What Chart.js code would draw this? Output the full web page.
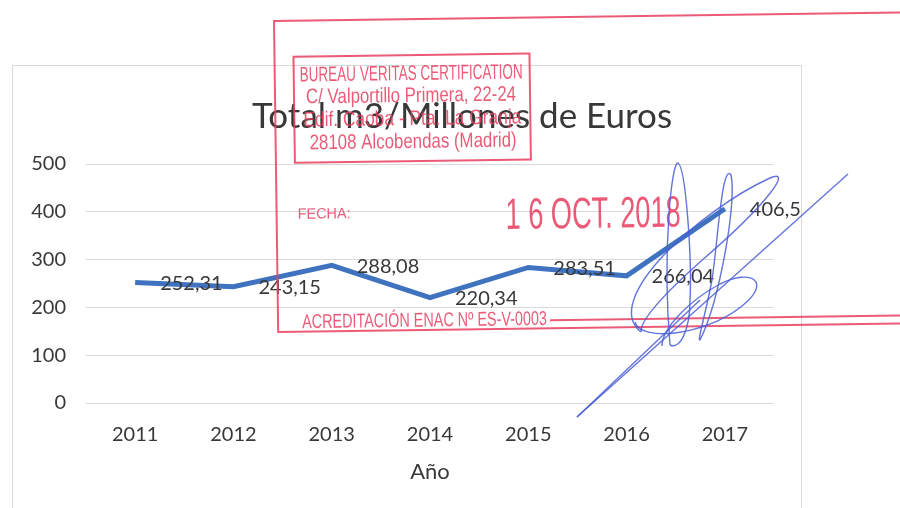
<!DOCTYPE html>
<html>
<head>
<meta charset="utf-8">
<script src="https://cdn.jsdelivr.net/npm/chart.js@4.4.0/dist/chart.umd.min.js"></script>
<style>
  html, body { margin: 0; padding: 0; background: #fff; }
  #wrap { width: 900px; height: 508px; position: relative; }
</style>
</head>
<body>
<div id="wrap"><canvas id="chart" width="900" height="508"></canvas></div>
<script>
// Chart data
const years = ['2011', '2012', '2013', '2014', '2015', '2016', '2017'];
const totals = [252.31, 243.15, 288.08, 220.34, 283.51, 266.04, 406.5];
const yTicks = [0, 100, 200, 300, 400, 500];
const chartTitle = 'Total m3/Millones de Euros';
const xTitle = 'Año';

// Stamp texts
const stampLines = [
  'BUREAU VERITAS CERTIFICATION',
  'C/ Valportillo Primera, 22-24',
  'Edif. Caoba - Pta. La Granja',
  '28108 Alcobendas (Madrid)'
];
const stampDate = '1 6 OCT. 2018';
const stampFecha = 'FECHA:';
const stampEnac = 'ACREDITACIÓN ENAC Nº ES-V-0003';

const fmt = v => String(v).replace('.', ',');
const TEXT = '#383838';
const RED = 'rgba(232, 62, 95, 0.85)';

// white page + grey chart frame
const framePlugin = {
  id: 'frame',
  beforeDraw(chart) {
    const ctx = chart.ctx;
    ctx.save();
    ctx.fillStyle = '#fff';
    ctx.fillRect(0, 0, chart.width, chart.height);
    ctx.strokeStyle = '#d9d9d9';
    ctx.lineWidth = 1;
    ctx.beginPath();
    ctx.moveTo(12.5, 520);
    ctx.lineTo(12.5, 65.5);
    ctx.lineTo(801.5, 65.5);
    ctx.lineTo(801.5, 520);
    ctx.stroke();
    ctx.fillStyle = TEXT;
    ctx.font = '35px Lato';
    ctx.textAlign = 'center';
    ctx.textBaseline = 'alphabetic';
    ctx.fillText(chartTitle, 462, 128);
    ctx.restore();
  }
};

// value labels to the right of each point
const labelPlugin = {
  id: 'valueLabels',
  afterDatasetsDraw(chart) {
    const ctx = chart.ctx;
    const meta = chart.getDatasetMeta(0);
    ctx.save();
    ctx.fillStyle = TEXT;
    ctx.font = '20px Lato';
    ctx.textAlign = 'left';
    ctx.textBaseline = 'middle';
    meta.data.forEach((pt, i) => {
      ctx.fillText(fmt(totals[i]), pt.x + 25, pt.y + 1);
    });
    ctx.restore();
  }
};

function squeezeText(ctx, text, x, y, width, size) {
  ctx.save();
  ctx.font = size + 'px "Liberation Sans"';
  const w = ctx.measureText(text).width;
  ctx.translate(x, y);
  ctx.scale(width / w, 1);
  ctx.fillText(text, 0, 0);
  ctx.restore();
}

// certification stamp and signature drawn over the chart
const stampPlugin = {
  id: 'stamp',
  afterDraw(chart) {
    const ctx = chart.ctx;
    ctx.save();
    ctx.translate(274, 21);
    ctx.rotate(-0.0135);
    ctx.strokeStyle = RED;
    ctx.fillStyle = RED;
    ctx.lineWidth = 2;
    ctx.beginPath();
    ctx.moveTo(700, 0); ctx.lineTo(0, 0); ctx.lineTo(0, 311); ctx.lineTo(700, 311);
    ctx.moveTo(272, 303); ctx.lineTo(700, 303);
    ctx.stroke();
    ctx.strokeRect(19, 36, 236, 106);
    ctx.textBaseline = 'middle';
    squeezeText(ctx, stampLines[0], 25, 55, 223, 21);
    squeezeText(ctx, stampLines[1], 31, 77, 210, 21);
    squeezeText(ctx, stampLines[2], 28, 100, 218, 21);
    squeezeText(ctx, stampLines[3], 34, 123, 207, 21);
    squeezeText(ctx, stampFecha, 21, 194, 53, 15);
    squeezeText(ctx, stampDate, 229, 199, 175, 44);
    squeezeText(ctx, stampEnac, 24, 302, 245, 20);
    ctx.restore();

    ctx.save();
    ctx.strokeStyle = 'rgba(72, 92, 214, 0.85)';
    ctx.lineWidth = 1.4;
    ctx.lineJoin = 'round';
    const paths = [
      'M577 417 L848 174',
      'M577 417 L700 300',
      'M670 345 C662 250 672 160 678 163 C686 168 692 260 690 300 C690 330 680 350 670 345',
      'M700 340 C720 300 737 200 731 175 C722 162 718 240 712 280 C706 312 697 342 700 340',
      'M641 332 C600 300 700 210 770 178 C792 168 772 200 700 262 C662 296 640 320 641 332',
      'M635 322 C640 342 705 336 742 306 C772 282 752 268 720 284 C690 300 662 328 662 346'
    ];
    paths.forEach(d => ctx.stroke(new Path2D(d)));
    ctx.restore();
  }
};

new Chart(document.getElementById('chart'), {
  type: 'line',
  data: {
    labels: years,
    datasets: [{
      data: totals,
      borderColor: '#3f73c0',
      borderWidth: 5,
      pointRadius: 0,
      tension: 0,
      fill: false
    }]
  },
  options: {
    responsive: false,
    animation: false,
    layout: { padding: { left: 0, right: 126, top: 164, bottom: 0 } },
    plugins: {
      legend: { display: false },
      title: { display: false },
      tooltip: { enabled: false }
    },
    scales: {
      x: {
        offset: true,
        grid: { display: false },
        border: { display: false },
        ticks: { color: TEXT, font: { family: 'Lato', size: 20 }, padding: 12 },
        title: {
          display: true,
          text: xTitle,
          color: TEXT,
          font: { family: 'Lato', size: 22 },
          padding: { top: 0, bottom: 23 }
        },
        afterFit(scale) { scale.height = 105; }
      },
      y: {
        min: 0,
        max: 500,
        afterBuildTicks(scale) { scale.ticks = yTicks.map(v => ({ value: v })); },
        grid: { color: '#d9d9d9', drawTicks: false },
        border: { display: false },
        ticks: { color: TEXT, font: { family: 'Lato', size: 20 }, padding: 20 },
        afterFit(scale) { scale.width = 86; }
      }
    }
  },
  plugins: [framePlugin, labelPlugin, stampPlugin]
});
</script>
</body>
</html>
